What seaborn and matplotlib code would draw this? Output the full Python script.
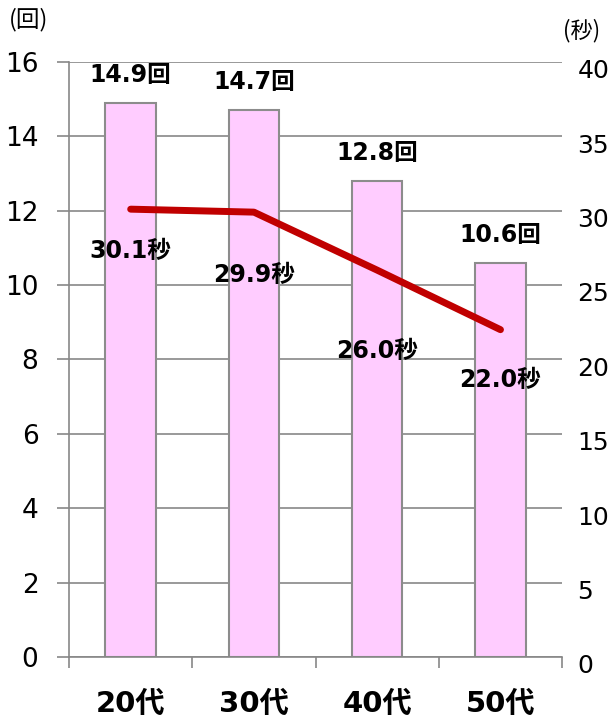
import numpy as np
import matplotlib.pyplot as plt
import matplotlib.transforms as mtransforms
import seaborn as sns

# data
ages = ["20代", "30代", "40代", "50代"]
counts = [14.9, 14.7, 12.8, 10.6]
seconds = [30.1, 29.9, 26.0, 22.0]
count_labels = ["14.9回", "14.7回", "12.8回", "10.6回"]
second_labels = ["30.1秒", "29.9秒", "26.0秒", "22.0秒"]
left_ticks = [0, 2, 4, 6, 8, 10, 12, 14, 16]
right_ticks = [0, 5, 10, 15, 20, 25, 30, 35, 40]

# vertical offsets (points) for the seconds labels
second_label_dy = [-30, -45, -58, -36]

gray = "#878787"

sns.set_style("white")
plt.rcParams["font.family"] = ["DejaVu Sans", "Noto Sans CJK JP"]
plt.rcParams["text.color"] = "black"
plt.rcParams["xtick.labelcolor"] = "black"
plt.rcParams["ytick.labelcolor"] = "black"

fig = plt.figure(figsize=(6.11, 7.17), dpi=100)
ax = fig.add_axes([0.113, 0.0837, 0.807, 0.830])

# bars (left axis)
sns.barplot(x=ages, y=counts, color="#FFCCFF", edgecolor="#8C8C8C",
            linewidth=1.5, width=0.41, saturation=1, ax=ax)
ax.set_axisbelow(True)
ax.yaxis.grid(True, color=gray, linewidth=1.2)
ax.set_xlim(-0.5, 3.5)
ax.set_ylim(0, 16)
ax.set_yticks(left_ticks)
ax.tick_params(axis="y", length=9, width=1.2, color=gray, labelsize=19, pad=13,
               labelcolor="black")

# category boundaries as major ticks, names as minor tick labels
ax.set_xticks(np.arange(5) - 0.5, labels=[""] * 5)
ax.set_xticks(np.arange(4), labels=ages, minor=True)
ax.tick_params(axis="x", which="major", length=8, width=1.2, color=gray, bottom=True)
ax.tick_params(axis="x", which="minor", length=0, pad=24, labelsize=21,
               labelcolor="black")
for lbl in ax.get_xticklabels(minor=True):
    lbl.set_fontweight("bold")
ax.set_xlabel("")
ax.set_ylabel("")

for side in ["top", "right"]:
    ax.spines[side].set_visible(False)
for side in ["left", "bottom"]:
    ax.spines[side].set_color(gray)
    ax.spines[side].set_linewidth(1.2)

for i, (v, t) in enumerate(zip(counts, count_labels)):
    ax.annotate(t, (i, v), xytext=(0, 20), textcoords="offset points",
                ha="center", va="center", fontsize=17, fontweight="bold",
                color="black")

# line (right axis)
ax2 = ax.twinx()
sns.lineplot(x=np.arange(4), y=seconds, ax=ax2, color="#C00000", linewidth=5)
ax2.set_ylim(0, 40)
ax2.set_yticks(right_ticks)
ax2.tick_params(axis="y", length=0, pad=11, labelsize=18, labelcolor="black")
ax2.set_ylabel("")
for side in ax2.spines:
    ax2.spines[side].set_visible(False)
shift = mtransforms.ScaledTranslation(0, -5 / 72, fig.dpi_scale_trans)
for lbl in ax2.get_yticklabels():
    lbl.set_transform(lbl.get_transform() + shift)

for i, (v, t, dy) in enumerate(zip(seconds, second_labels, second_label_dy)):
    ax2.annotate(t, (i, v), xytext=(0, dy), textcoords="offset points",
                 ha="center", va="center", fontsize=17, fontweight="bold",
                 color="black")

# unit labels
fig.text(0.047, 0.972, "(回)", ha="center", va="center", fontsize=17,
         color="black", family=["Noto Sans CJK JP", "DejaVu Sans"])
fig.text(0.952, 0.957, "(秒)", ha="center", va="center", fontsize=16,
         color="black", family=["Noto Sans CJK JP", "DejaVu Sans"])

fig.savefig("out.png", dpi=100)
